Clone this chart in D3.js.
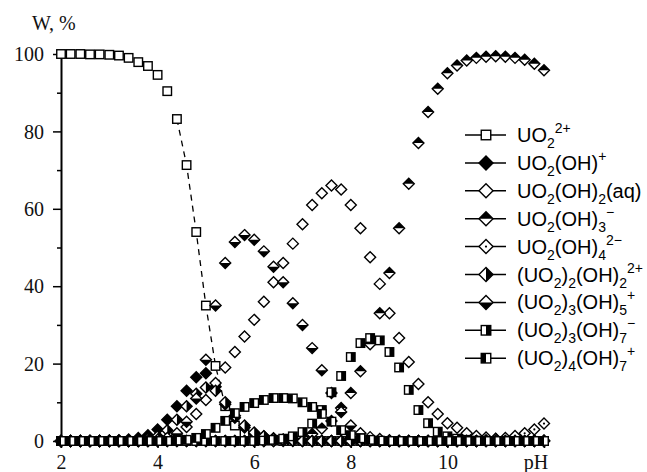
<!DOCTYPE html>
<html>
<head>
<meta charset="utf-8">
<script src="https://cdn.jsdelivr.net/npm/d3@7"></script>
<style>
body{margin:0;background:#fff;}
</style>
</head>
<body>
<script>
// pH grid (step 0.2)
var pH = [2,2.2,2.4,2.6,2.8,3,3.2,3.4,3.6,3.8,4,4.2,4.4,4.6,4.8,5,5.2,5.4,5.6,5.8,6,6.2,6.4,6.6,6.8,7,7.2,7.4,7.6,7.8,8,8.2,8.4,8.6,8.8,9,9.2,9.4,9.6,9.8,10,10.2,10.4,10.6,10.8,11,11.2,11.4,11.6,11.8,12];

// species fractions, W %
var uo2 = [100,100,100,99.9,99.9,99.8,99.6,99,97.9,96.9, 94.6,90.4,83.2,71.3,54,35,19.4,9,4,1.8, 0.8,0.3,0.1,0,0,0,0,0,0,0, 0,0,0,0,0,0,0,0,0,0, 0,0,0,0,0,0,0,0,0,0,0];
var uoh = [0,0,0,0,0,0.1,0.2,0.4,0.8,1.5, 3,5.5,9,13,16.5,17.5,14,9.5,6,3.5, 2,1.2,0.7,0.4,0.2,0.1,0,0,0,0, 0,0,0,0,0,0,0,0,0,0, 0,0,0,0,0,0,0,0,0,0,0];
var uoh2 = [0,0,0,0,0,0,0,0,0,0.1, 0.3,0.6,1.5,3.6,7,10.6,15,19,23,27, 31.3,36,41,46,51,56,61,64,66,65, 61,55,47.5,40.6,33,26.6,20.4,14.7,10,7, 4.6,3.4,2,1.3,0.9,0.6,0.4,0.3,0.2,0.1,0.1];
var uoh3 = [0,0,0,0,0,0,0,0,0,0, 0,0,0,0,0,0,0,0,0,0, 0,0,0,0.2,0.5,1,1.8,3.2,5.2,8.5, 12.4,18,25,33,43.4,55,66.5,77,85,91, 95,97,98.3,99,99.3,99.4,99.3,99,98.5,97.5,95.8];
var uoh4 = [0,0,0,0,0,0,0,0,0,0, 0,0,0,0,0,0,0,0,0,0, 0,0,0,0,0,0,0,0,0,0, 0,0,0,0,0,0,0,0,0,0, 0,0,0,0,0.2,0.5,0.8,1.3,2,3,4.5];
var u2oh2 = [0,0,0,0,0,0,0,0,0.2,0.5, 1.2,2.8,5.5,9,12.2,13.8,13,10,6.5,4, 2.2,1.2,0.6,0.3,0.1,0,0,0,0,0, 0,0,0,0,0,0,0,0,0,0, 0,0,0,0,0,0,0,0,0,0,0];
var u3oh5 = [0,0,0,0,0,0,0,0,0,0, 0.3,0.8,2,5,11,21,35,46,51.4,53.2, 52,49,45,41,35.6,30,24,18.3,12.4,7.5, 4,2,1,0.5,0.2,0,0,0,0,0, 0,0,0,0,0,0,0,0,0,0,0];
var u3oh7 = [0,0,0,0,0,0,0,0,0,0, 0,0,0,0,0,0,0,0,0,0, 0,0.1,0.3,0.6,1.2,2.3,4.5,8,12.6,16.8, 21.7,25.3,26.6,26,23,19,13.2,8,4.6,2.4, 1.2,0.6,0.3,0.1,0,0,0,0,0,0,0];
var u4oh7 = [0,0,0,0,0,0,0,0,0,0, 0,0,0.1,0.3,0.8,1.8,3.4,5.2,7.2,8.8, 9.8,10.6,11.1,11.1,11,10,8.8,7,5,2.8, 1.5,0.7,0.3,0.1,0,0,0,0,0,0, 0,0,0,0,0,0,0,0,0,0,0];

// legend labels: [text, "sub"/"sup"/undefined]
var labels = [
  [["UO"],["2","sub"],["2+","sup"]],
  [["UO"],["2","sub"],["(OH)"],["+","sup"]],
  [["UO"],["2","sub"],["(OH)"],["2","sub"],["(aq)"]],
  [["UO"],["2","sub"],["(OH)"],["3","sub"],["\u2212","sup"]],
  [["UO"],["2","sub"],["(OH)"],["4","sub"],["2\u2212","sup"]],
  [["(UO"],["2","sub"],[")"],["2","sub"],["(OH)"],["2","sub"],["2+","sup"]],
  [["(UO"],["2","sub"],[")"],["3","sub"],["(OH)"],["5","sub"],["+","sup"]],
  [["(UO"],["2","sub"],[")"],["3","sub"],["(OH)"],["7","sub"],["\u2212","sup"]],
  [["(UO"],["2","sub"],[")"],["4","sub"],["(OH)"],["7","sub"],["+","sup"]]
];
var series = [uo2, uoh, uoh2, uoh3, uoh4, u2oh2, u3oh5, u3oh7, u4oh7];
var symbols = ["sq","dfull","dopen","dtop","ddot","dright","dbottom","sqright","sqleft"];

var yTicks = [0,20,40,60,80,100],
    yMinor = [10,30,50,70,90],
    xTicks = [2,4,6,8,10,12],
    xMinor = [3,5,7,9,11];

var width = 647, height = 472;

var svg = d3.select("body").append("svg")
  .attr("width", width)
  .attr("height", height);

var x = d3.scaleLinear().domain([2,12]).range([61,544]);
var y = d3.scaleLinear().domain([0,100]).range([441,54]);

var serif = "'Liberation Serif','Times New Roman',serif";
var sans = "'Liberation Sans',Arial,sans-serif";

// minor ticks first
svg.append("g").attr("transform","translate(61,0)")
  .call(d3.axisLeft(y).tickValues(yMinor).tickSize(4).tickFormat(""))
  .call(function(g){ g.select(".domain").remove(); g.selectAll("line").attr("stroke-width",1.5); });
svg.append("g").attr("transform","translate(0,441)")
  .call(d3.axisBottom(x).tickValues(xMinor).tickSize(4).tickFormat(""))
  .call(function(g){ g.select(".domain").remove(); g.selectAll("line").attr("stroke-width",1.5); });

var yAxis = svg.append("g").attr("transform","translate(61,0)")
  .call(d3.axisLeft(y).tickValues(yTicks).tickSize(8).tickSizeOuter(0).tickPadding(9));
yAxis.attr("font-family", serif).attr("font-size", 20);
yAxis.select(".domain").attr("stroke-width", 2);
yAxis.selectAll(".tick line").attr("stroke-width", 1.5);
yAxis.selectAll(".tick text").attr("fill","#111").attr("dy","0.33em");

var xAxis = svg.append("g").attr("transform","translate(0,441)")
  .call(d3.axisBottom(x).tickValues(xTicks).tickSize(7).tickSizeOuter(0)
    .tickFormat(function(d){ return d === 12 ? "" : d; }));
xAxis.attr("font-family", serif).attr("font-size", 20);
xAxis.select(".domain").attr("stroke-width", 2);
xAxis.selectAll(".tick line").attr("stroke-width", 1.5);
xAxis.selectAll(".tick text").attr("fill","#111").attr("y", 28).attr("dy", "0");

svg.append("text").attr("x", 536).attr("y", 469).attr("text-anchor","middle")
  .attr("font-family", serif).attr("font-size", 20).attr("fill","#111").text("pH");
svg.append("text").attr("x", 32).attr("y", 30)
  .attr("font-family", serif).attr("font-size", 20).attr("fill","#111").text("W, %");

// marker drawing
function drawMarker(g, type, r, s){
  var dia = "M0," + (-r) + "L" + r + ",0L0," + r + "L" + (-r) + ",0Z";
  if (type.indexOf("sq") === 0) {
    g.append("rect").attr("x",-s/2).attr("y",-s/2).attr("width",s).attr("height",s).attr("fill","#fff");
    if (type === "sqright") g.append("rect").attr("x",0).attr("y",-s/2).attr("width",s/2).attr("height",s).attr("fill","#000");
    if (type === "sqleft") g.append("rect").attr("x",-s/2).attr("y",-s/2).attr("width",s/2).attr("height",s).attr("fill","#000");
    g.append("rect").attr("x",-s/2).attr("y",-s/2).attr("width",s).attr("height",s)
      .attr("fill","none").attr("stroke","#000").attr("stroke-width",1.4);
    return;
  }
  g.append("path").attr("d", dia).attr("fill", type === "dfull" ? "#000" : "#fff");
  var half = null;
  if (type === "dtop") half = "M" + (-r) + ",0L0," + (-r) + "L" + r + ",0Z";
  if (type === "dbottom") half = "M" + (-r) + ",0L0," + r + "L" + r + ",0Z";
  if (type === "dright") half = "M0," + (-r) + "L" + r + ",0L0," + r + "Z";
  if (half) g.append("path").attr("d", half).attr("fill","#000");
  if (type === "ddot") g.append("circle").attr("r", 1.1).attr("fill","#000");
  g.append("path").attr("d", dia).attr("fill","none").attr("stroke","#000").attr("stroke-width",1.4);
}

// dashed line on the steep part of UO2 2+
var steep = pH.map(function(p,i){ return [p, uo2[i]]; }).filter(function(d){ return d[0] >= 4.4 && d[0] <= 5.4; });
svg.append("path")
  .attr("d", d3.line().x(function(d){ return x(d[0]); }).y(function(d){ return y(d[1]); })(steep))
  .attr("fill","none").attr("stroke","#000").attr("stroke-width",1.3).attr("stroke-dasharray","6,5");

// points
series.forEach(function(vals, k){
  var g = svg.append("g");
  vals.forEach(function(v, i){
    var m = g.append("g").attr("transform","translate(" + x(pH[i]) + "," + y(v) + ")");
    drawMarker(m, symbols[k], 5.5, 8.5);
  });
});

// legend
var leg = svg.append("g");
labels.forEach(function(parts, k){
  var cy = 135 + k * 27.9;
  var row = leg.append("g").attr("transform","translate(0," + cy + ")");
  row.append("line").attr("x1",465).attr("x2",506).attr("y1",0).attr("y2",0)
    .attr("stroke","#000").attr("stroke-width",1.5);
  var m = row.append("g").attr("transform","translate(486,0)");
  drawMarker(m, symbols[k], 7, 9.5);
  var t = row.append("text").attr("x",517).attr("y",7)
    .attr("font-family", sans).attr("font-size",20).attr("fill","#000");
  var shift = 0;
  parts.forEach(function(p){
    var target = p[1] === "sub" ? 6 : p[1] === "sup" ? -9 : 0;
    t.append("tspan").attr("dy", target - shift).attr("font-size", p[1] ? 14 : 20).text(p[0]);
    shift = target;
  });
});
</script>
</body>
</html>
